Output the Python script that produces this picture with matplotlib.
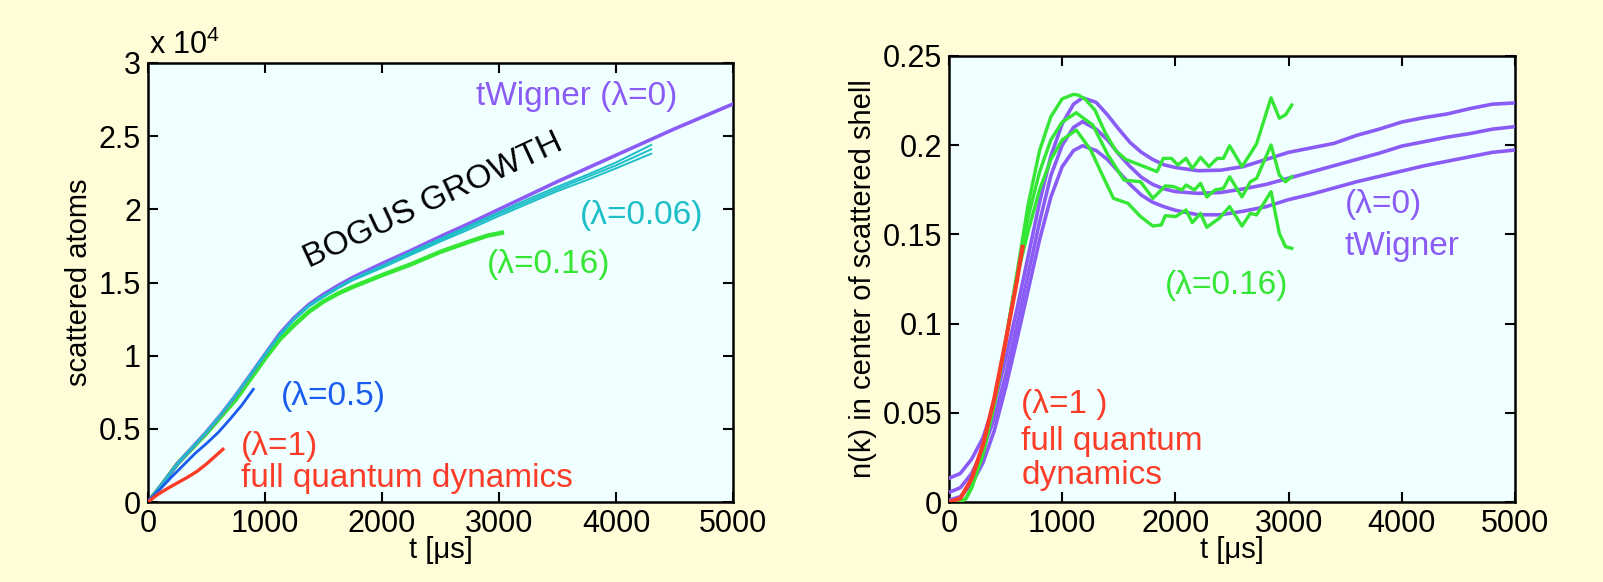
import numpy as np
import matplotlib
matplotlib.use("Agg")
import matplotlib.pyplot as plt

plt.rcParams['font.family'] = ['Liberation Sans', 'DejaVu Sans']
plt.rcParams['mathtext.fontset'] = 'custom'
plt.rcParams['mathtext.rm'] = 'Liberation Sans'

# colours
BG_FIG = '#FFFDD8'
BG_AX = '#F0FFFF'
PURPLE = '#8A5CF5'
CYAN = '#1DBEC8'
GREEN = '#35E635'
BLUE = '#1A5CF0'
RED = '#FA3C28'

# ---- left panel: scattered atoms (units of 1e4) ----
t_tw = [0, 125, 250, 375, 500, 625, 750, 875, 1000, 1125, 1250, 1375, 1500, 1625, 1750,
        2000, 2250, 2500, 2750, 3000, 3500, 4000, 4500, 5000]
n_tw = [0, 0.125, 0.26, 0.37, 0.48, 0.60, 0.73, 0.87, 1.01, 1.15, 1.26, 1.35, 1.42, 1.48, 1.535,
        1.63, 1.72, 1.815, 1.905, 2.0, 2.19, 2.37, 2.55, 2.72]

t_c = [0, 125, 250, 375, 500, 625, 750, 875, 1000, 1125, 1250, 1375, 1500, 1625, 1750,
       2000, 2250, 2500, 2750, 3000, 3250, 3500, 3750, 4000, 4150, 4300]
n_c1 = [0, 0.125, 0.26, 0.37, 0.48, 0.60, 0.73, 0.87, 1.01, 1.145, 1.255, 1.345, 1.41, 1.47, 1.525,
        1.615, 1.71, 1.80, 1.89, 1.98, 2.07, 2.155, 2.235, 2.32, 2.38, 2.44]
n_c2 = [0, 0.125, 0.26, 0.37, 0.48, 0.60, 0.73, 0.87, 1.01, 1.14, 1.25, 1.34, 1.405, 1.465, 1.52,
        1.61, 1.70, 1.79, 1.88, 1.97, 2.055, 2.14, 2.22, 2.30, 2.355, 2.41]
n_c3 = [0, 0.125, 0.26, 0.37, 0.48, 0.60, 0.73, 0.865, 1.005, 1.135, 1.245, 1.335, 1.40, 1.46, 1.515,
        1.60, 1.69, 1.78, 1.865, 1.955, 2.04, 2.125, 2.20, 2.28, 2.33, 2.38]

t_g = [0, 125, 250, 375, 500, 625, 750, 875, 1000, 1125, 1250, 1375, 1500, 1625, 1750,
       2000, 2250, 2500, 2750, 2900, 3025]
n_g = [0, 0.125, 0.26, 0.365, 0.47, 0.585, 0.70, 0.84, 0.98, 1.11, 1.21, 1.30, 1.37, 1.425, 1.47,
       1.55, 1.625, 1.71, 1.78, 1.82, 1.84]

t_b = [0, 100, 200, 300, 400, 500, 600, 700, 800, 900]
n_b = [0, 0.085, 0.17, 0.25, 0.33, 0.40, 0.475, 0.565, 0.66, 0.77]

t_r = [0, 80, 170, 250, 340, 420, 500, 570, 640]
n_r = [0, 0.05, 0.094, 0.13, 0.17, 0.21, 0.26, 0.31, 0.36]

# ---- right panel: n(k) in centre of scattered shell ----
t_p = [0, 100, 200, 300, 400, 500, 600, 700, 800, 900, 1000, 1100, 1180, 1300, 1400, 1500,
       1600, 1700, 1800, 1900, 2000, 2200, 2400, 2600, 2800, 3000, 3200, 3400, 3600, 3800,
       4000, 4200, 4400, 4600, 4800, 5000]
p_top = [0.0133, 0.016, 0.024, 0.036, 0.055, 0.080, 0.108, 0.138, 0.168, 0.194, 0.212, 0.223,
         0.2266, 0.224, 0.217, 0.209, 0.2015, 0.196, 0.192, 0.189, 0.1875, 0.1857, 0.186, 0.188,
         0.192, 0.196, 0.1985, 0.201, 0.2055, 0.209, 0.213, 0.2155, 0.2175, 0.2205, 0.223, 0.2237]
p_mid = [0.0054, 0.008, 0.016, 0.029, 0.047, 0.071, 0.099, 0.128, 0.157, 0.183, 0.200, 0.210,
         0.2132, 0.209, 0.203, 0.195, 0.188, 0.182, 0.178, 0.1755, 0.174, 0.173, 0.1735, 0.1755,
         0.178, 0.1815, 0.185, 0.1885, 0.192, 0.1955, 0.1995, 0.202, 0.2045, 0.2065, 0.209, 0.2104]
p_bot = [0.001, 0.003, 0.010, 0.022, 0.040, 0.064, 0.091, 0.119, 0.147, 0.171, 0.188, 0.197,
         0.1997, 0.197, 0.192, 0.185, 0.178, 0.172, 0.168, 0.1655, 0.1635, 0.161, 0.161, 0.163,
         0.1655, 0.1695, 0.1725, 0.176, 0.1795, 0.1825, 0.1855, 0.1885, 0.191, 0.1935, 0.196, 0.1973]

t_g1 = [0, 100, 150, 200, 300, 400, 500, 600, 700, 800, 900, 1000, 1100, 1142, 1200, 1289,
        1380, 1472, 1563, 1765, 1838, 1893, 1966, 2021, 2094, 2149, 2222, 2296, 2369, 2424,
        2479, 2588, 2662, 2717, 2845, 2918, 2973, 3028]
g_top = [0, 0, 0.002, 0.008, 0.027, 0.055, 0.090, 0.128, 0.167, 0.197, 0.216, 0.226, 0.2285,
         0.2281, 0.226, 0.2197, 0.207, 0.197, 0.192, 0.187, 0.1852, 0.1926, 0.1926, 0.1889,
         0.1926, 0.187, 0.1932, 0.188, 0.1926, 0.1926, 0.1997, 0.188, 0.1952, 0.2008, 0.2266,
         0.2151, 0.217, 0.2225]

t_g2 = [0, 100, 150, 200, 300, 400, 500, 600, 700, 800, 900, 1000, 1124, 1270, 1400, 1545,
        1692, 1801, 1911, 1984, 2058, 2094, 2168, 2222, 2277, 2351, 2424, 2479, 2588, 2662,
        2717, 2845, 2918, 2973, 3028]
g_mid = [0, 0, 0.002, 0.008, 0.027, 0.055, 0.090, 0.127, 0.160, 0.185, 0.203, 0.213, 0.2182,
         0.2113, 0.195, 0.1805, 0.1795, 0.1702, 0.1772, 0.1768, 0.1749, 0.1777, 0.1749, 0.1786,
         0.171, 0.1749, 0.1758, 0.1823, 0.171, 0.1795, 0.1814, 0.2001, 0.1833, 0.1795, 0.1823]

t_g3 = [0, 100, 150, 200, 300, 400, 500, 600, 700, 800, 900, 1000, 1124, 1252, 1362, 1453,
        1581, 1692, 1801, 1875, 1911, 2003, 2094, 2149, 2222, 2277, 2387, 2479, 2588, 2662,
        2717, 2845, 2918, 2973, 3028]
g_bot = [0, 0, 0.002, 0.008, 0.027, 0.055, 0.090, 0.126, 0.152, 0.175, 0.192, 0.203, 0.2085,
         0.1973, 0.1823, 0.1702, 0.1674, 0.160, 0.1547, 0.1553, 0.1605, 0.160, 0.1637, 0.1566,
         0.1618, 0.154, 0.159, 0.1656, 0.1547, 0.1618, 0.1609, 0.174, 0.1506, 0.1431, 0.1422]

t_rq = [0, 100, 200, 300, 400, 500, 600, 650]
n_rq = [0, 0.002, 0.013, 0.032, 0.058, 0.090, 0.124, 0.143]


def style_axes(ax):
    ax.set_facecolor(BG_AX)
    for s in ax.spines.values():
        s.set_linewidth(1.8)
        s.set_color('black')
    ax.tick_params(direction='in', length=7, width=1.5, top=True, right=True,
                   labelsize=22, pad=5)


fig = plt.figure(figsize=(16.03, 5.82), dpi=100, facecolor=BG_FIG)
fs = 24   # annotation size

# left
ax1 = fig.add_axes([148 / 1603, 80 / 582, 585 / 1603, 439 / 582])
style_axes(ax1)
ax1.plot(t_tw, n_tw, color=PURPLE, lw=2.6, zorder=3)
for arr in (n_c1, n_c2, n_c3):
    ax1.plot(t_c, arr, color=CYAN, lw=1.4, zorder=4)
ax1.plot(t_g, n_g, color=GREEN, lw=3.2, zorder=2)
ax1.plot(t_b, n_b, color=BLUE, lw=2.0, zorder=5)
ax1.plot(t_r, n_r, color=RED, lw=2.4, zorder=5)
ax1.set_xlim(0, 5000)
ax1.set_ylim(0, 3)
ax1.set_xticks([0, 1000, 2000, 3000, 4000, 5000])
ax1.set_yticks([0, 0.5, 1, 1.5, 2, 2.5, 3])
ax1.set_yticklabels(['0', '0.5', '1', '1.5', '2', '2.5', '3'])
ax1.set_xlabel('t [μs]', fontsize=21, labelpad=-2)
ax1.set_ylabel('scattered atoms', fontsize=21, labelpad=4)
ax1.text(0.002, 1.004, r'x 10$^{4}$', transform=ax1.transAxes, fontsize=22,
         ha='left', va='bottom')

ax1.text(2800, 2.77, 'tWigner (λ=0)', color=PURPLE, fontsize=fs, va='center')
ax1.text(2440, 2.06, 'BOGUS GROWTH', color='black', fontsize=fs, rotation=25,
         ha='center', va='center', rotation_mode='anchor')
ax1.text(3690, 1.96, '(λ=0.06)', color=CYAN, fontsize=fs, va='center')
ax1.text(2900, 1.62, '(λ=0.16)', color=GREEN, fontsize=fs, va='center')
ax1.text(1137, 0.72, '(λ=0.5)', color=BLUE, fontsize=fs, va='center')
ax1.text(795, 0.38, '(λ=1)', color=RED, fontsize=fs, va='center')
ax1.text(795, 0.16, 'full quantum dynamics', color=RED, fontsize=fs, va='center')

# right
ax2 = fig.add_axes([949 / 1603, 80 / 582, 566 / 1603, 446 / 582])
style_axes(ax2)
for arr in (p_top, p_mid, p_bot):
    ax2.plot(t_p, arr, color=PURPLE, lw=2.6, zorder=3)
ax2.plot(t_g1, g_top, color=GREEN, lw=2.4, zorder=4)
ax2.plot(t_g2, g_mid, color=GREEN, lw=2.4, zorder=4)
ax2.plot(t_g3, g_bot, color=GREEN, lw=2.4, zorder=4)
ax2.plot(t_rq, n_rq, color=RED, lw=3.0, zorder=5)
ax2.set_xlim(0, 5000)
ax2.set_ylim(0, 0.25)
ax2.set_xticks([0, 1000, 2000, 3000, 4000, 5000])
ax2.set_yticks([0, 0.05, 0.1, 0.15, 0.2, 0.25])
ax2.set_yticklabels(['0', '0.05', '0.1', '0.15', '0.2', '0.25'])
ax2.set_xlabel('t [μs]', fontsize=21, labelpad=-2)
ax2.set_ylabel('n(k) in center of scattered shell', fontsize=21, labelpad=4)

ax2.text(3500, 0.167, '(λ=0)', color=PURPLE, fontsize=fs, va='center')
ax2.text(3490, 0.143, 'tWigner', color=PURPLE, fontsize=fs, va='center')
ax2.text(1905, 0.1216, '(λ=0.16)', color=GREEN, fontsize=fs, va='center')
ax2.text(640, 0.0544, '(λ=1 )', color=RED, fontsize=fs, va='center')
ax2.text(640, 0.034, 'full quantum', color=RED, fontsize=fs, va='center')
ax2.text(640, 0.0150, 'dynamics', color=RED, fontsize=fs, va='center')

fig.savefig('out.png', dpi=100, facecolor=BG_FIG)
